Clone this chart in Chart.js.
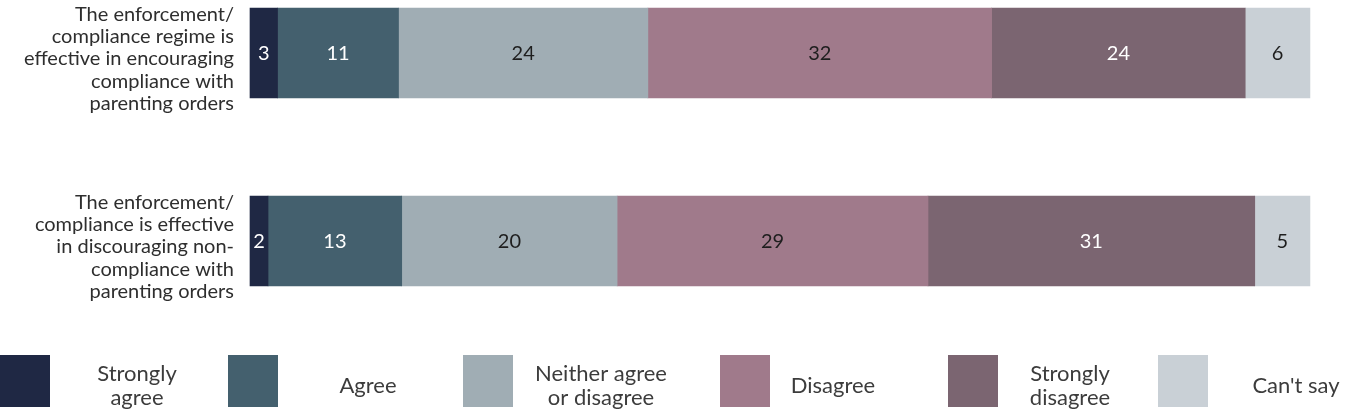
<!DOCTYPE html>
<html>
<head>
<meta charset="utf-8">
<script src="https://cdn.jsdelivr.net/npm/chart.js@4"></script>
<style>
  html, body { margin: 0; padding: 0; background: #fff; }
  #wrap { width: 1356px; height: 412px; position: relative; }
</style>
</head>
<body>
<div id="wrap"><canvas id="surveyChart" width="1356" height="412"></canvas></div>
<script>
// statements (y axis), one label line per entry
const statements = [
  ["The enforcement/", "compliance regime is", "effective in encouraging", "compliance with", "parenting orders"],
  ["The enforcement/", "compliance is effective", "in discouraging non-", "compliance with", "parenting orders"]
];

// response categories
const responses = ["Strongly agree", "Agree", "Neither agree or disagree", "Disagree", "Strongly disagree", "Can't say"];
const legendLines = [["Strongly", "agree"], ["Agree"], ["Neither agree", "or disagree"], ["Disagree"], ["Strongly", "disagree"], ["Can't say"]];
const colours = ["#1f2844", "#44606e", "#a0adb4", "#a07a8b", "#7b6571", "#c9d0d6"];
const textColours = ["#ffffff", "#ffffff", "#1e1e1e", "#1e1e1e", "#ffffff", "#1e1e1e"];

// percentages per response, [statement 1, statement 2]
const stronglyAgree = [2.6, 1.7];
const agree = [11.4, 12.6];
const neither = [23.5, 20.3];
const disagree = [32.4, 29.3];
const stronglyDisagree = [23.9, 30.8];
const cantSay = [6.1, 5.2];

const seriesValues = [stronglyAgree, agree, neither, disagree, stronglyDisagree, cantSay];
const FONT = "Lato, 'Noto Sans', sans-serif";

// where the legend swatches and their texts sit
const legendBoxX = [0, 228, 463, 720, 948, 1158];
const legendTextX = [137, 368, 601, 833, 1070, 1296];

// numbers inside the bars
const valueLabels = {
  id: "valueLabels",
  afterDatasetsDraw(chart) {
    const ctx = chart.ctx;
    ctx.save();
    ctx.font = "20px " + FONT;
    ctx.textAlign = "center";
    ctx.textBaseline = "middle";
    chart.data.datasets.forEach(function (ds, i) {
      const meta = chart.getDatasetMeta(i);
      meta.data.forEach(function (bar, j) {
        const x = (bar.x + bar.base) / 2;
        ctx.fillStyle = textColours[i];
        ctx.fillText(Math.round(ds.data[j]), x, bar.y + 1);
      });
    });
    ctx.restore();
  }
};

// legend along the bottom with big squares
const bottomLegend = {
  id: "bottomLegend",
  afterDraw(chart) {
    const ctx = chart.ctx;
    ctx.save();
    ctx.font = "22px " + FONT;
    ctx.textAlign = "center";
    ctx.textBaseline = "middle";
    chart.data.datasets.forEach(function (ds, i) {
      ctx.fillStyle = ds.backgroundColor;
      ctx.fillRect(legendBoxX[i], 355, 50, 52);
      ctx.fillStyle = "#3c3c3c";
      const lines = legendLines[i];
      const cx = legendTextX[i];
      if (lines.length === 1) {
        ctx.fillText(lines[0], cx, 386);
      } else {
        ctx.fillText(lines[0], cx, 374);
        ctx.fillText(lines[1], cx, 398);
      }
    });
    ctx.restore();
  }
};

const ctx = document.getElementById("surveyChart").getContext("2d");
const chart = new Chart(ctx, {
  type: "bar",
  data: {
    labels: statements,
    datasets: responses.map(function (name, i) {
      return {
        label: name,
        data: seriesValues[i],
        backgroundColor: colours[i],
        borderWidth: 0,
        barThickness: 90,
        clip: false
      };
    })
  },
  options: {
    indexAxis: "y",
    responsive: false,
    animation: false,
    layout: {
      padding: { top: 53, right: 45, bottom: 171, left: 0 }
    },
    scales: {
      x: {
        stacked: true,
        min: 0,
        max: 100,
        display: false
      },
      y: {
        stacked: true,
        offset: false,
        grid: { display: false },
        border: { display: false },
        ticks: {
          color: "#2e2e2e",
          padding: 8,
          labelOffset: 6,
          font: { family: FONT, size: 20, lineHeight: 1.12 }
        },
        afterFit(scale) {
          scale.width = 250;
          scale.paddingTop = 0;
          scale.paddingBottom = 0;
        }
      }
    },
    plugins: {
      legend: { display: false },
      tooltip: { enabled: false }
    }
  },
  plugins: [valueLabels, bottomLegend]
});
</script>
</body>
</html>
